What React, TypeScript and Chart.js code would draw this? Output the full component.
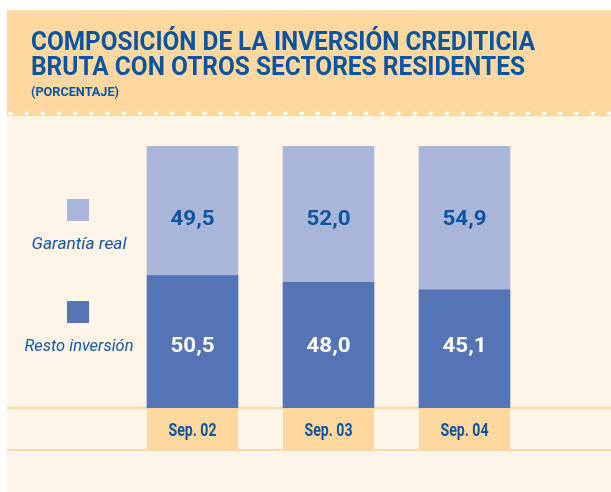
import React, { useEffect, useRef } from "react";
import { Chart, registerables } from "chart.js";

Chart.register(...registerables);

const categories = ["Sep. 02", "Sep. 03", "Sep. 04"];
const restoInversion = [50.5, 48.0, 45.1];
const garantiaReal = [49.5, 52.0, 54.9];
const seriesNames = ["Resto inversión", "Garantía real"];
const valueLabels = [
  ["50,5", "48,0", "45,1"],
  ["49,5", "52,0", "54,9"],
];
const titleLines = [
  "COMPOSICIÓN DE LA INVERSIÓN CREDITICIA",
  "BRUTA CON OTROS SECTORES RESIDENTES",
];
const subtitle = "(PORCENTAJE)";

const ORANGE = "#FED89E";
const CREAM = "#FEF5E8";
const LINE = "#FDD8A4";
const BLUE_TEXT = "#0B54A2";
const LIGHT_BAR = "#A9B6DA";
const DARK_BAR = "#5574B5";

function fitText(
  ctx: CanvasRenderingContext2D,
  text: string,
  x: number,
  y: number,
  width: number,
  font: string,
  align: "left" | "center"
) {
  ctx.save();
  ctx.font = font;
  ctx.textBaseline = "alphabetic";
  ctx.textAlign = "left";
  const w = ctx.measureText(text).width;
  const s = width / w;
  ctx.translate(align === "center" ? x - width / 2 : x, y);
  ctx.scale(s, 1);
  ctx.fillText(text, 0, 0);
  ctx.restore();
}

const backgroundPlugin = {
  id: "bg",
  beforeDraw(chart: any) {
    const ctx = chart.ctx as CanvasRenderingContext2D;
    const W = chart.width;
    const H = chart.height;
    ctx.save();
    ctx.fillStyle = "#ffffff";
    ctx.fillRect(0, 0, W, H);
    ctx.fillStyle = CREAM;
    ctx.fillRect(7, 10, W - 7, H - 10);
    ctx.fillStyle = ORANGE;
    ctx.fillRect(7, 10, W - 7, 106);
    // dots
    ctx.fillStyle = "#ffffff";
    for (let x = 10.5; x < W + 3; x += 16.17) {
      ctx.beginPath();
      ctx.arc(x, 113.3, 2.1, 0, Math.PI * 2);
      ctx.fill();
    }
    // title
    ctx.fillStyle = BLUE_TEXT;
    fitText(ctx, titleLines[0], 31, 49.5, 504, "bold 25px Roboto", "left");
    fitText(ctx, titleLines[1], 31, 74.5, 494, "bold 25px Roboto", "left");
    fitText(ctx, subtitle, 31, 96, 88, "bold 12.5px Roboto", "left");

    // horizontal lines
    const yBase = chart.scales.y.getPixelForValue(0);
    ctx.fillStyle = LINE;
    ctx.fillRect(7, yBase - 1, W - 7, 2);
    ctx.fillRect(7, yBase + 41, W - 7, 2);

    // category boxes
    const meta = chart.getDatasetMeta(0);
    meta.data.forEach((bar: any, i: number) => {
      const half = bar.width / 2;
      ctx.fillStyle = ORANGE;
      ctx.fillRect(bar.x - half, yBase + 1, bar.width, 40);
      ctx.fillStyle = BLUE_TEXT;
      fitText(ctx, categories[i], bar.x, yBase + 28, 48, "bold 19px Roboto", "center");
    });

    // legend
    const ds = chart.data.datasets;
    const legendItems = [
      { idx: 1, boxY: 199, textY: 248.5, width: 95 },
      { idx: 0, boxY: 301, textY: 350.5, width: 109 },
    ];
    legendItems.forEach((it) => {
      ctx.fillStyle = ds[it.idx].backgroundColor;
      ctx.fillRect(67, it.boxY, 22, 22);
      ctx.fillStyle = "#1257A5";
      fitText(ctx, ds[it.idx].label, 79, it.textY, it.width, "italic 16px Roboto", "center");
    });
    ctx.restore();
  },
  afterDatasetsDraw(chart: any) {
    const ctx = chart.ctx as CanvasRenderingContext2D;
    const y = chart.scales.y;
    const levels = [24.2, 72.7];
    const colors = ["#ffffff", BLUE_TEXT];
    [0, 1].forEach((d) => {
      const meta = chart.getDatasetMeta(d);
      meta.data.forEach((bar: any, i: number) => {
        ctx.fillStyle = colors[d];
        fitText(
          ctx,
          valueLabels[d][i],
          bar.x,
          y.getPixelForValue(levels[d]) + 7.5,
          44,
          "bold 21px Roboto",
          "center"
        );
      });
    });
  },
};

export default function App() {
  const ref = useRef<HTMLCanvasElement | null>(null);
  useEffect(() => {
    if (!ref.current) return;
    const chart = new Chart(ref.current, {
      type: "bar",
      data: {
        labels: categories,
        datasets: [
          {
            label: seriesNames[0],
            data: restoInversion,
            backgroundColor: DARK_BAR,
            borderWidth: 0,
            barThickness: 91,
          },
          {
            label: seriesNames[1],
            data: garantiaReal,
            backgroundColor: LIGHT_BAR,
            borderWidth: 0,
            barThickness: 91,
          },
        ],
      },
      options: {
        responsive: false,
        animation: false,
        layout: { padding: { left: 124.5, right: 78.5, top: 146, bottom: 84 } },
        scales: {
          x: { stacked: true, display: false },
          y: { stacked: true, display: false, min: 0, max: 100 },
        },
        plugins: { legend: { display: false }, tooltip: { enabled: false } },
      },
      plugins: [backgroundPlugin],
    });
    return () => chart.destroy();
  }, []);
  return (
    <div style={{ position: "absolute", left: 0, top: 0, width: 611, height: 492 }}>
      <canvas ref={ref} width={611} height={492} style={{ display: "block" }} />
    </div>
  );
}
